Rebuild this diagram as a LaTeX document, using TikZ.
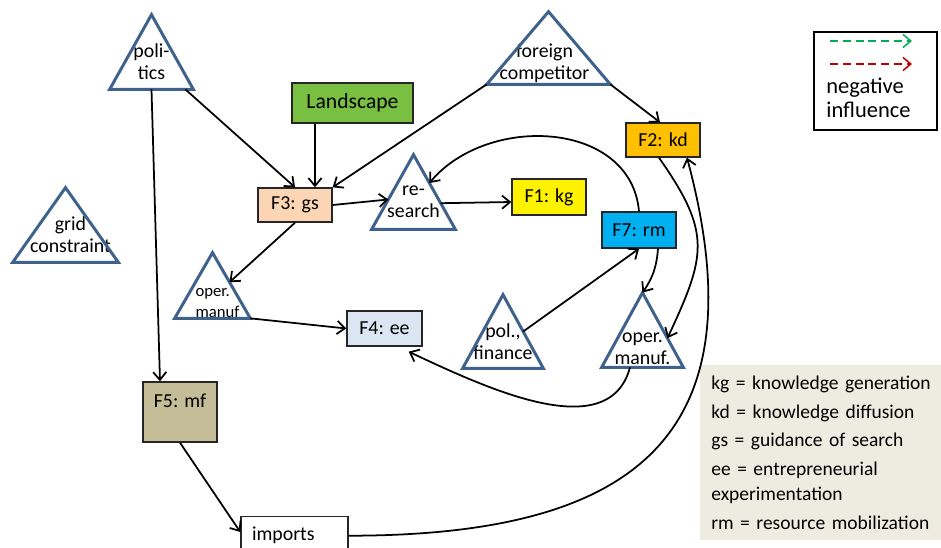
\documentclass[tikz,border=0pt]{standalone}
\usepackage{fontspec}
\setmainfont{Carlito}
\usetikzlibrary{arrows.meta,calc}

\definecolor{triblue}{RGB}{63,98,140}
\definecolor{landgreen}{RGB}{120,191,66}
\definecolor{gspeach}{RGB}{252,213,181}
\definecolor{kdorange}{RGB}{255,192,0}
\definecolor{rmblue}{RGB}{0,176,240}
\definecolor{eeblue}{RGB}{220,230,242}
\definecolor{mftan}{RGB}{196,189,151}
\definecolor{defbg}{RGB}{238,236,225}
\definecolor{dashgreen}{RGB}{0,176,80}
\definecolor{dashred}{RGB}{192,0,0}

\tikzset{
  box/.style={draw=black!85, line width=0.8pt, minimum width=1.48cm, minimum height=0.68cm, inner sep=0pt},
  tri/.style 2 args={minimum width=#1, minimum height=#2, inner sep=0pt},
  tlab/.style={align=center, inner sep=0pt},
  triline/.style={draw=triblue, line width=1.7pt},
  arr/.style={-{Straight Barb[length=4.5pt,width=7.5pt]}, line width=1pt},
  legarr/.style={arr, line width=0.85pt, dash pattern=on 4.5pt off 2.8pt}
}

\begin{document}
\begin{tikzpicture}[x=0.02cm, y=0.02cm, font=\fontsize{11.3}{12.5}\selectfont]
\useasboundingbox (0,0) rectangle (941,-548);
\clip (0,0) rectangle (941,-548);

\node[tri={1.66cm}{1.48cm}, label={[tlab,yshift=-0.19cm]center:{poli-\\tics}}] (pol) at (151.5,-52) {};
\node[tri={2.1cm}{1.48cm}, label={[tlab,xshift=0.1cm,yshift=-0.2cm]center:{grid\\constraint}}] (grid) at (65.5,-225) {};
\node[tri={2.46cm}{1.44cm}, label={[tlab,xshift=-0.08cm,yshift=-0.3cm]center:{foreign\\competitor}}] (fc) at (548.5,-48) {};
\node[tri={1.66cm}{1.48cm}, label={[tlab,yshift=-0.19cm]center:{re-\\search}}] (res) at (413.5,-192) {};
\node[tri={1.5cm}{1.3cm}, label={[tlab,align=left,font=\fontsize{9.5}{11.4}\selectfont,xshift=0.1cm,yshift=-0.35cm]center:{oper.\\manuf}}] (omA) at (212.5,-285.5) {};
\node[tri={1.6cm}{1.46cm}, label={[tlab,yshift=-0.2cm]center:{pol.,\\finance}}] (fin) at (503,-331.5) {};
\node[tri={1.62cm}{1.48cm}, label={[tlab,yshift=-0.37cm]center:{oper.\\manuf.}}] (omB) at (642.5,-330) {};
\foreach \t in {pol,grid,fc,res,omA,fin,omB}
  \draw[triline] (\t.north) -- (\t.south east) -- (\t.south west) -- cycle;

\node[box, fill=landgreen, minimum width=2.42cm, minimum height=0.8cm, font=\fontsize{12.3}{14}\selectfont] (land) at (352.5,-103) {Landscape};
\node[box, fill=gspeach] (f3) at (295,-205) {F3: gs};
\node[box, fill=yellow, minimum height=0.72cm] (f1) at (549,-197) {F1: kg};
\node[box, fill=kdorange] (f2) at (663,-140) {F2: kd};
\node[box, fill=rmblue, minimum height=0.72cm] (f7) at (639,-230) {F7: rm};
\node[box, fill=eeblue, minimum width=1.5cm, minimum height=0.7cm] (f4) at (384.5,-328.5) {F4: ee};
\node[box, fill=mftan, text height=0.5cm, text depth=0.7cm] (f5) at (180,-412) {F5: mf};
\node[box, fill=white, minimum width=2.14cm, text width=1.7cm, align=left, inner xsep=0.22cm, text height=0.48cm, text depth=0.6cm, anchor=north] (imp) at (294.5,-516) {imports};

\node[draw=black, line width=1.4pt, minimum width=2.46cm, minimum height=1.96cm, inner sep=0pt] (leg) at (875.5,-81) {};
\coordinate (ga1) at (830,-41);
\coordinate (ga2) at (912,-41);
\coordinate (ra1) at (830,-64);
\coordinate (ra2) at (912,-64);
\draw[legarr, draw=dashgreen] (ga1) -- (ga2);
\draw[legarr, draw=dashred] (ra1) -- (ra2);
\node[align=left, anchor=west, inner sep=0pt, font=\fontsize{12.8}{13.6}\selectfont] (neg) at (826,-98) {negative\\influence};

\node[fill=defbg, anchor=north west, minimum height=3.5cm, inner xsep=0.22cm, text width=4.7cm, align=left, font=\fontsize{11.1}{14.4}\selectfont] (defs) at (700,-365)
  {kg = knowledge generation\\[1.8pt]
   kd = knowledge diffusion\\[1.8pt]
   gs = guidance of search\\[1.8pt]
   ee = entrepreneurial\\
   experimentation\\[1.8pt]
   rm = resource mobilization};

\draw[arr] ([xshift=-0.16cm]pol.south east) -- (f3.north);
\draw[arr] (pol.south) -- ([xshift=-0.4cm]f5.north);
\draw[arr] ([xshift=0.4cm]f3.north |- land.south) -- ([xshift=0.4cm]f3.north);
\draw[arr] (fc.south west) -- (f3.north east);
\draw[arr] (fc.south east) -- ([xshift=-0.06cm]f2.north);
\draw[arr] (f3.east) -- ($(res.north)!0.6!(res.south west)$);
\draw[arr] ($(res.north)!0.65!(res.south east)$) -- ([yshift=-0.1cm]f1.west);
\draw[arr] (f3.south) -- ($(omA.north)!0.45!(omA.south east)$);
\draw[arr] (omA.south east) -- (f4.west);
\draw[arr] (f5.south) -- ([yshift=-0.32cm]imp.north west);
\draw[arr] ($(fin.north)!0.5!(fin.south east)$) -- (f7.south);
\draw[arr] ([xshift=0.38cm]f7.south) to[bend left=15] (omB.north);
\draw[arr] (f7.north) to[out=95,in=50,looseness=1.1] ($(res.north)!0.38!(res.south east)$);
\draw[arr] ([xshift=-0.08cm]f2.south) to[out=-55,in=65,looseness=1.3] ($(omB.north)!0.61!(omB.south east)$);
\draw[arr] ([yshift=0.16cm]imp.east) to[out=0,in=-75,looseness=1.45] ([xshift=0.48cm]f2.south);
\draw[arr] ([xshift=-0.25cm]omB.south) to[out=-105,in=-25,looseness=0.95] ([xshift=-0.28cm,yshift=-0.1cm]f4.south east);
\end{tikzpicture}
\end{document}
